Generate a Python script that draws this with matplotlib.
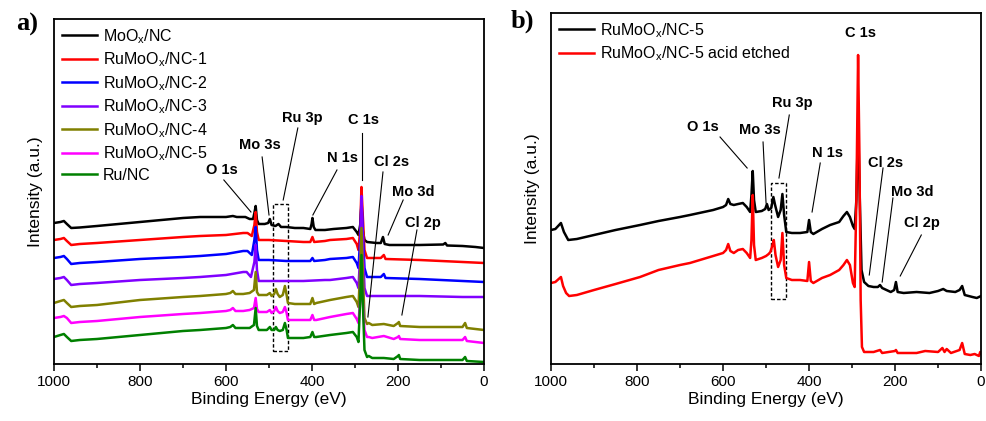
import numpy as np
import matplotlib
matplotlib.use("Agg")
import matplotlib.pyplot as plt
from matplotlib.patches import Rectangle
from matplotlib.ticker import MultipleLocator

plt.rcParams['font.family'] = ['Liberation Sans', 'DejaVu Sans']
plt.rcParams['mathtext.default'] = 'regular'

# ---- survey spectra, panel a (binding energy in eV, intensity in a.u., stacked) ----
be_moox = [1000, 985, 977, 970, 960, 940, 900, 800, 700, 660, 600, 584, 575, 555, 545, 537,
           534, 531, 528, 524, 510, 502, 498, 494, 485, 478, 472, 460, 440, 420, 404, 401,
           399, 396, 392, 370, 350, 320, 305, 296, 292, 288, 285, 282, 278, 272, 250, 240,
           235, 231, 220, 150, 95, 90, 86, 50, 20, 0]
i_moox = [141, 142, 143, 140, 136, 136.5, 138, 142, 146, 147, 147, 148, 147, 147, 145, 145,
          151, 158, 144, 140, 140, 141, 145, 139, 138, 140, 137, 137, 136, 136, 135, 140,
          146, 137, 134, 134, 135, 136, 137, 132, 129, 139, 159, 134, 124, 122, 121, 121,
          127, 120, 119, 119, 119.5, 121, 118.5, 118, 117, 116]

be_ru1 = [1000, 985, 977, 970, 960, 940, 900, 800, 700, 660, 600, 560, 550, 540, 534, 531,
          528, 524, 500, 460, 420, 404, 399, 395, 370, 358, 320, 305, 296, 292, 288, 285,
          282, 278, 272, 240, 233, 229, 150, 50, 0]
i_ru1 = [124, 125, 126, 123, 119, 120, 121, 124, 127, 128, 129, 131, 131, 128, 139, 152,
         132, 124, 124, 123, 122, 122, 127, 122, 123, 124, 125, 126, 120, 114, 134, 177,
         149, 114, 106, 106, 109, 105, 104, 102, 101]

be_ru2 = be_ru1
i_ru2 = [106, 107, 108, 105, 100, 101, 102, 105, 107, 108, 110, 113, 113, 109, 124, 137,
         114, 104, 104, 103, 103, 103, 106, 103, 104, 105, 106, 107, 101, 96, 124, 166,
         134, 96, 87, 87, 90, 86, 85, 83, 82]

be_ru3 = [1000, 985, 977, 970, 960, 940, 900, 800, 700, 660, 600, 560, 552, 542, 534, 531,
          528, 524, 500, 460, 420, 370, 358, 320, 305, 296, 292, 288, 285, 282, 278, 272,
          150, 50, 0]
i_ru3 = [85, 86, 87, 84, 79, 80, 81, 84, 86, 87, 89, 92, 92, 87, 102, 119,
         94, 83, 83, 83, 83, 84, 84, 86, 87, 81, 76, 109, 168, 124, 76, 68,
         68, 67, 67]

be_ru = [1000, 985, 977, 970, 960, 940, 900, 800, 700, 660, 600, 590, 584, 578, 560, 545,
         535, 531, 528, 524, 505, 498, 494, 488, 484, 480, 475, 468, 463, 459, 456, 440,
         420, 404, 399, 395, 390, 358, 320, 305, 296, 292, 288, 285, 282, 278, 272, 268,
         260, 233, 210, 200, 198, 195, 150, 90, 50, 44, 40, 0]
i_ru4 = [61, 63, 64, 61, 57, 58, 59, 64, 67, 68, 70, 71, 73, 70, 70, 71,
         74, 92, 72, 69, 69, 71, 68, 70, 75, 70, 67, 69, 78, 69, 61, 60,
         60, 60, 66, 60, 61, 64, 67, 68, 62, 57, 94, 136, 94, 46, 40, 41,
         39, 40, 38, 41, 42, 38, 37, 37, 37, 41, 36, 34]
i_ru5 = [46, 47, 48, 46, 41, 42, 43, 47, 50, 51, 53, 54, 56, 53, 53, 54,
         56, 66, 55, 52, 52, 54, 51, 53, 57, 53, 51, 52, 57, 51, 44, 44,
         44, 44, 49, 44, 44, 47, 50, 51, 45, 41, 64, 102, 64, 34, 27, 27,
         26, 28, 25, 27, 28, 25, 24, 24, 24, 27, 23, 21]
i_runc = [27, 29, 30, 27, 23, 24, 25, 29, 33, 34, 36, 37, 39, 36, 36, 36,
          39, 56, 38, 34, 34, 37, 34, 34, 37, 34, 33, 34, 41, 34, 26, 26,
          26, 27, 32, 27, 27, 29, 31, 32, 27, 22, 64, 109, 64, 14, 7, 8,
          6, 6, 5, 8, 9, 5, 4, 4, 4, 7, 3, 2]

# ---- panel b ----
be_b = [1000, 990, 977, 970, 960, 940, 900, 850, 793, 750, 700, 677, 623, 600, 593, 588,
        583, 575, 565, 554, 545, 537, 534, 531, 528, 524, 510, 502, 498, 494, 488, 483,
        479, 472, 466, 462, 458, 453, 440, 421, 404, 400, 396, 390, 370, 351, 330, 320,
        312, 305, 298, 294, 290, 286, 282, 278, 272, 262, 250, 240, 235, 230, 210, 202,
        198, 194, 180, 150, 120, 100, 88, 80, 60, 50, 44, 38, 20, 10, 0]
i_ru5_b = [134, 135, 141, 132, 124, 125, 129, 134, 139, 143, 147, 149, 154, 157, 159, 165,
           160, 159, 160, 161, 157, 152, 169, 193, 164, 152, 153, 155, 160, 154, 156, 167,
           159, 147, 154, 170, 149, 132, 131, 131, 132, 144, 132, 130, 135, 139, 142, 148,
           152, 147, 138, 135, 164, 244, 164, 94, 82, 78, 77, 77, 79, 76, 72, 74,
           82, 72, 71, 72, 71, 73, 75, 73, 72, 74, 78, 69, 67, 66, 68]

be_etch = [1000, 990, 977, 972, 965, 958, 940, 900, 850, 793, 750, 700, 677, 623, 600, 593,
           588, 583, 575, 565, 554, 545, 537, 534, 531, 528, 524, 510, 500, 494, 490, 485,
           482, 478, 472, 466, 462, 458, 453, 440, 421, 404, 400, 396, 390, 370, 351, 330,
           320, 312, 305, 298, 294, 290, 286, 283, 280, 277, 272, 250, 235, 230, 200, 198,
           194, 150, 130, 100, 90, 85, 80, 70, 50, 44, 38, 25, 15, 5, 2, 0]
i_etch = [81, 82, 87, 78, 71, 68, 69, 74, 80, 87, 94, 99, 101, 108, 111, 114,
          120, 113, 111, 114, 115, 111, 106, 124, 169, 119, 104, 106, 108, 110, 112, 119,
          124, 109, 97, 104, 131, 99, 86, 84, 84, 83, 102, 83, 81, 86, 89, 94,
          99, 104, 99, 81, 77, 164, 309, 214, 64, 17, 12, 12, 14, 11, 13, 14,
          11, 11, 13, 12, 16, 12, 15, 11, 14, 21, 10, 9, 10, 8, 12, 11]

labels_a = ['MoO$_x$/NC', 'RuMoO$_x$/NC-1', 'RuMoO$_x$/NC-2', 'RuMoO$_x$/NC-3',
            'RuMoO$_x$/NC-4', 'RuMoO$_x$/NC-5', 'Ru/NC']
colors_a = ['black', '#ff0000', '#0000ff', '#8000ff', '#808000', '#ff00ff', '#008000']
series_a = [(be_moox, i_moox), (be_ru1, i_ru1), (be_ru2, i_ru2), (be_ru3, i_ru3),
            (be_ru, i_ru4), (be_ru, i_ru5), (be_ru, i_runc)]

labels_b = ['RuMoO$_x$/NC-5', 'RuMoO$_x$/NC-5 acid etched']
colors_b = ['black', '#ff0000']
series_b = [(be_b, i_ru5_b), (be_etch, i_etch)]

# peak labels: (text, label position, line start, line end) in (eV, a.u.)
peaks_a = [
    ('O 1s', (609, 194), (605, 184), (542, 152)),
    ('Mo 3s', (521, 219), (516, 207), (500, 149)),
    ('Ru 3p', (423, 246), (433, 236), (467, 164)),
    ('N 1s', (330, 206), (342, 194), (398, 149)),
    ('C 1s', (281, 244), (284, 231), (284, 184)),
    ('Cl 2s', (214, 202), (235, 192), (270, 47)),
    ('Mo 3d', (165, 172), (188, 164), (223, 129)),
    ('Cl 2p', (142, 141), (156, 134), (191, 49)),
]
peaks_b = [
    ('O 1s', (646, 237), (607, 227), (544, 196)),
    ('Mo 3s', (514, 234), (507, 222), (500, 161)),
    ('Ru 3p', (440, 261), (446, 249), (470, 186)),
    ('N 1s', (358, 211), (374, 201), (393, 152)),
    ('C 1s', (281, 331), None, None),
    ('Cl 2s', (223, 201), (228, 196), (260, 89)),
    ('Mo 3d', (160, 172), (205, 166), (230, 82)),
    ('Cl 2p', (137, 141), (139, 129), (188, 88)),
]


def style_axes(ax, ymax):
    ax.set_xlim(1000, 0)
    ax.set_ylim(0, ymax)
    ax.xaxis.set_major_locator(MultipleLocator(200))
    ax.xaxis.set_minor_locator(MultipleLocator(100))
    ax.tick_params(axis='x', which='major', direction='out', length=5, width=1.1,
                   labelsize=11, pad=3, top=False)
    ax.tick_params(axis='x', which='minor', direction='out', length=3, width=1.1, top=False)
    ax.set_yticks([])
    for s in ax.spines.values():
        s.set_linewidth(1.3)
    ax.set_xlabel('Binding Energy (eV)', fontsize=12.5, labelpad=2)
    ax.set_ylabel('Intensity (a.u.)', fontsize=12.5, labelpad=8)


def draw_peaks(ax, peaks):
    for text, pos, p0, p1 in peaks:
        ax.text(pos[0], pos[1], text, fontsize=10.5, fontweight='bold',
                ha='center', va='center')
        if p0 is not None:
            ax.plot([p0[0], p1[0]], [p0[1], p1[1]], color='black', lw=0.8)


fig = plt.figure(figsize=(9.87, 4.21), dpi=100)
ax1 = fig.add_axes([0.0547, 0.1354, 0.4357, 0.8195])
ax2 = fig.add_axes([0.5583, 0.1354, 0.4357, 0.8337])

for (x, y), c, lab in zip(series_a, colors_a, labels_a):
    ax1.plot(x, y, color=c, lw=1.8, label=lab)
style_axes(ax1, 345)
draw_peaks(ax1, peaks_a)
ax1.add_patch(Rectangle((491, 13), -35, 147, fill=False, ls=(0, (2.5, 1.5)),
                        lw=1.0, ec='black'))
ax1.legend(loc='upper left', frameon=False, fontsize=11.5, handlelength=2.2,
           handletextpad=0.35, labelspacing=0.3, borderaxespad=0.2, borderpad=0.3)

for (x, y), c, lab in zip(series_b, colors_b, labels_b):
    ax2.plot(x, y, color=c, lw=1.8, label=lab)
style_axes(ax2, 351)
draw_peaks(ax2, peaks_b)
ax2.add_patch(Rectangle((488, 65), -35, 116, fill=False, ls=(0, (2.5, 1.5)),
                        lw=1.0, ec='black'))
ax2.legend(loc='upper left', frameon=False, fontsize=11.5, handlelength=2.2,
           handletextpad=0.35, labelspacing=0.3, borderaxespad=0.2, borderpad=0.3)

fig.text(27 / 987, 1 - 24 / 421, 'a)', fontsize=19, fontweight='bold',
         family=['Liberation Serif', 'DejaVu Serif'], ha='center', va='center')
fig.text(522 / 987, 1 - 21 / 421, 'b)', fontsize=19, fontweight='bold',
         family=['Liberation Serif', 'DejaVu Serif'], ha='center', va='center')

fig.savefig('out.png', dpi=100)
